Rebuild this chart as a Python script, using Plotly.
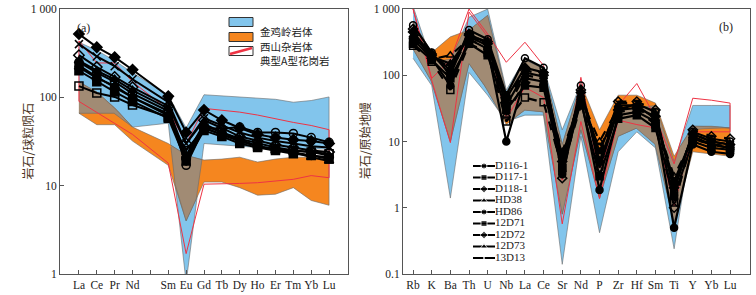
import numpy as np
import plotly.graph_objects as go

# ---------------- data ----------------
REE_ALL = ["La", "Ce", "Pr", "Nd", "Pm", "Sm", "Eu", "Gd", "Tb", "Dy", "Ho", "Er", "Tm", "Yb", "Lu"]
ree = ["La", "Ce", "Pr", "Nd", "Sm", "Eu", "Gd", "Tb", "Dy", "Ho", "Er", "Tm", "Yb", "Lu"]
spider = ["Rb", "K", "Ba", "Th", "U", "Nb", "La", "Ce", "Sr", "Nd", "P", "Zr", "Hf", "Sm", "Ti", "Y", "Yb", "Lu"]

samples = ["D116-1", "D117-1", "D118-1", "HD38", "HD86", "12D71", "12D72", "12D73", "13D13"]

# chondrite-normalised REE fields (a)
jjl_up_a = [420, 340, 260, 190, 105, 45, 107, 104, 100, 98, 95, 88, 92, 101]
jjl_lo_a = [66, 66, 66, 46, 51, 0.8, 30, 29, 28, 27, 27, 26, 26, 26]
xs_up_a = [150, 115, 76, 46, 30, 22, 19.5, 20, 21, 18.5, 20, 21, 21, 19.5]
xs_lo_a = [66, 49, 49, 32, 17, 4, 11, 11, 9.5, 7.8, 8, 9.5, 6.8, 6]
atype_up_a = [435, 245, 245, 150, 72, 30, 75, 72, 68, 63, 57, 52, 48, 43]
atype_lo_a = [90, 68, 51, 38, 18, 1.7, 10.4, 10.4, 10.6, 10.8, 11.2, 11.8, 13, 12.3]

ree_vals = {
    "D116-1": [230, 170, 130, 100, 62, 20, 45, 38, 32, 28, 26, 24, 22, 21],
    "D117-1": [200, 150, 115, 90, 58, 19, 42, 36, 30, 27, 25, 23, 22, 20],
    "D118-1": [520, 370, 285, 205, 103, 40, 72, 55, 45, 38, 35, 33, 32, 30],
    "HD38":   [260, 200, 160, 120, 75, 22, 50, 40, 34, 30, 27, 25, 24, 22],
    "HD86":   [250, 190, 150, 110, 70, 17, 45, 44, 46, 40, 40, 39, 35, 31],
    "12D71":  [134, 112, 101, 82, 60, 25, 45, 38, 32, 28, 26, 25, 24, 23],
    "12D72":  [300, 220, 170, 130, 80, 30, 55, 45, 36, 32, 29, 27, 25, 24],
    "12D73":  [220, 165, 135, 100, 65, 21, 48, 40, 33, 28, 25, 24, 21, 19],
    "13D13":  [400, 290, 225, 160, 88, 30, 58, 48, 40, 35, 32, 30, 28, 27],
}

# primitive-mantle normalised fields (b)
jjl_up_b = [1100, 160, 170, 750, 1000, 60, 180, 130, 15, 75, 6, 30, 32, 35, 5, 35, 35, 35]
jjl_lo_b = [180, 70, 1.4, 110, 50, 20, 25, 25, 0.14, 12, 0.42, 7, 14, 8, 0.24, 15, 16, 16]
xs_up_b = [650, 220, 380, 480, 800, 55, 170, 125, 9, 75, 15, 50, 50, 38, 6, 17, 17, 16]
xs_lo_b = [250, 80, 10, 150, 60, 18, 30, 28, 0.8, 15, 1.4, 12, 16, 9, 0.6, 7, 6.5, 6]
atype_up_b = [1000, 90, 170, 1000, 420, 157, 315, 140, 2.6, 93, 3, 35, 75, 23, 4.6, 45, 42, 38]
atype_lo_b = [1000, 84, 9.6, 900, 380, 22, 66, 46, 0.57, 20, 1.37, 21, 18, 16, 1.07, 14, 14, 14]

spider_vals = {
    "D116-1": [350, 180, 70, 350, 250, 10, 90, 80, 3.2, 45, 1.85, 25, 28, 20, 0.5, 9, 7, 6.5],
    "D117-1": [300, 170, 90, 300, 200, 30, 70, 65, 4, 40, 3, 22, 25, 16, 1.5, 10, 8, 7.5],
    "D118-1": [450, 200, 120, 420, 300, 45, 130, 110, 5, 55, 5, 30, 32, 24, 2, 13, 10, 9],
    "HD38":   [400, 190, 150, 380, 280, 35, 110, 95, 6, 50, 7, 35, 35, 22, 2.5, 12, 9, 8],
    "HD86":   [570, 220, 100, 480, 350, 50, 180, 130, 3.5, 70, 4, 30, 37, 28, 1.8, 14, 11, 10],
    "12D71":  [280, 160, 60, 300, 220, 20, 46, 39, 4, 35, 8, 28, 30, 18, 1.2, 11, 9, 8],
    "12D72":  [500, 210, 110, 400, 320, 40, 120, 100, 2.8, 60, 6, 40, 40, 30, 1, 15, 12, 11],
    "12D73":  [380, 175, 200, 350, 260, 25, 80, 70, 7, 45, 10, 32, 33, 20, 3, 11, 9, 8.5],
    "13D13":  [420, 195, 130, 400, 300, 30, 100, 90, 5, 52, 5, 38, 38, 25, 2, 13, 10, 9],
}

# ---------------- styles ----------------
BLUE = "#82C5EC"
ORANGE = "#F5861F"
BROWN = "#A18B74"
RED = "#EE3344"
EDGE = "#6a6a6a"
SERIF = "Liberation Serif"
CJK = "Noto Sans CJK SC"

symbols = ["circle", "square", "diamond", "triangle-up", "circle-open", "square-open",
           "diamond-open", "triangle-up-open", "x-thin-open"]
dashes = ["solid", "solid", "solid", "solid", "solid", "dash", "dash", "dash", "dash"]

xa = [REE_ALL.index(e) for e in ree]
xb = list(range(len(spider)))

fig = go.Figure()


def add_band(xs, up, lo, color, xaxis, yaxis):
    fig.add_trace(go.Scatter(
        x=list(xs) + list(xs)[::-1], y=list(up) + list(lo)[::-1],
        mode="lines", fill="toself", fillcolor=color,
        line=dict(color=EDGE, width=0.6), hoverinfo="skip", showlegend=False,
        xaxis=xaxis, yaxis=yaxis))


def add_overlap(xs, u1, l1, u2, l2, color, xaxis, yaxis, n=60):
    X, U, L = [], [], []
    for i in range(len(xs) - 1):
        t = np.linspace(0, 1, n, endpoint=(i == len(xs) - 2))
        X.extend(xs[i] + t * (xs[i + 1] - xs[i]))
        def li(a):
            return np.log10(a[i]) + t * (np.log10(a[i + 1]) - np.log10(a[i]))
        U.extend(np.minimum(li(u1), li(u2)))
        L.extend(np.maximum(li(l1), li(l2)))
    X, U, L = np.array(X), np.array(U), np.array(L)
    valid = U > L
    runs, cur = [], []
    for k, v in enumerate(valid):
        if v:
            cur.append(k)
        elif cur:
            runs.append(cur); cur = []
    if cur:
        runs.append(cur)
    for r in runs:
        if len(r) < 2:
            continue
        xr = X[r]; ur = 10 ** U[r]; lr = 10 ** L[r]
        fig.add_trace(go.Scatter(
            x=list(xr) + list(xr[::-1]), y=list(ur) + list(lr[::-1]),
            mode="lines", fill="toself", fillcolor=color,
            line=dict(color=EDGE, width=0.6), hoverinfo="skip", showlegend=False,
            xaxis=xaxis, yaxis=yaxis))


def add_outline(xs, up, lo, xaxis, yaxis):
    xx = list(xs) + list(xs)[::-1] + [xs[0]]
    yy = list(up) + list(lo)[::-1] + [up[0]]
    fig.add_trace(go.Scatter(x=xx, y=yy, mode="lines", line=dict(color=RED, width=1),
                             hoverinfo="skip", showlegend=False, xaxis=xaxis, yaxis=yaxis))


# panel (a)
add_band(xa, jjl_up_a, jjl_lo_a, BLUE, "x", "y")
add_band(xa, xs_up_a, xs_lo_a, ORANGE, "x", "y")
add_overlap(xa, jjl_up_a, jjl_lo_a, xs_up_a, xs_lo_a, BROWN, "x", "y")
add_outline(xa, atype_up_a, atype_lo_a, "x", "y")
for s, sym in zip(samples, symbols):
    fig.add_trace(go.Scatter(
        x=xa, y=ree_vals[s], mode="lines+markers", name=s,
        line=dict(color="black", width=2),
        marker=dict(symbol=sym, size=8, color="black", line=dict(color="black", width=1.5)),
        showlegend=False, xaxis="x", yaxis="y"))

# panel (b)
add_band(xb, jjl_up_b, jjl_lo_b, BLUE, "x2", "y2")
add_band(xb, xs_up_b, xs_lo_b, ORANGE, "x2", "y2")
add_overlap(xb, jjl_up_b, jjl_lo_b, xs_up_b, xs_lo_b, BROWN, "x2", "y2")
add_outline(xb, atype_up_b, atype_lo_b, "x2", "y2")
for s, sym, d in zip(samples, symbols, dashes):
    fig.add_trace(go.Scatter(
        x=xb, y=spider_vals[s], mode="lines+markers", name=s,
        line=dict(color="black", width=2.2, dash=d),
        marker=dict(symbol=sym, size=7, color="black", line=dict(color="black", width=1.5)),
        showlegend=False, xaxis="x2", yaxis="y2"))

# legend for (b): drawn on an overlay axis in pixel-like units
for i, (s, sym) in enumerate(zip(samples, symbols)):
    yy = 166 + 11.5 * i
    fig.add_trace(go.Scatter(
        x=[473, 484, 495], y=[yy, yy, yy], mode="lines+markers+text",
        text=["", "", s], textposition="middle right",
        textfont=dict(family=SERIF, size=11, color="#222"),
        line=dict(color="black", width=2),
        marker=dict(symbol=sym.replace("-open", ""), size=[0, 6, 0], color="black"),
        showlegend=False, hoverinfo="skip", xaxis="x3", yaxis="y3", cliponaxis=False))

W, H = 756, 295
T, B = 9, 21
PH = H - T - B


def px(x):
    return x / W


def py(y):
    return (H - B - y) / PH


axis_common = dict(showgrid=False, zeroline=False, showline=True, mirror=True,
                   linecolor="#555", linewidth=1, ticks="inside", ticklen=4,
                   tickcolor="#555", tickfont=dict(family=SERIF, size=11.5, color="#222"))

fig.update_layout(
    width=W, height=H, autosize=False,
    margin=dict(l=0, r=0, t=T, b=B),
    paper_bgcolor="white", plot_bgcolor="rgba(0,0,0,0)",
    showlegend=False,
    xaxis=dict(domain=[60 / W, 348 / W], range=[-1.06, 15.06], anchor="y",
               tickvals=list(range(len(REE_ALL))),
               ticktext=[e if e != "Pm" else "" for e in REE_ALL], **axis_common),
    yaxis=dict(domain=[0, 1], type="log", range=[0, 3], anchor="x",
               tickvals=[1, 10, 100, 1000], ticktext=["1", "10", "100", "1 000"], **axis_common),
    xaxis2=dict(domain=[403 / W, 750 / W], range=[-0.54, 18.07], anchor="y2",
                tickvals=xb, ticktext=spider, **axis_common),
    yaxis2=dict(domain=[0, 1], type="log", range=[-1, 3], anchor="x2",
                tickvals=[0.1, 1, 10, 100, 1000], ticktext=["0.1", "1", "10", "100", "1 000"],
                **axis_common),
    xaxis3=dict(overlaying="x2", range=[403, 750], visible=False),
    yaxis3=dict(overlaying="y2", range=[H - B, T], visible=False),
)

ann = [
    dict(x=px(75), y=py(19), text="(a)"),
    dict(x=px(735), y=py(18), text="(b)"),
]
annotations = [dict(xref="paper", yref="paper", showarrow=False,
                    font=dict(family=SERIF, size=12, color="#222"), **a) for a in ann]
annotations += [
    dict(xref="paper", yref="paper", x=px(16), y=py(141), text="岩石/球粒陨石", textangle=-90,
         showarrow=False, font=dict(family=CJK, size=12, color="#4a3322")),
    dict(xref="paper", yref="paper", x=px(364), y=py(141), text="岩石/原始地幔", textangle=-90,
         showarrow=False, font=dict(family=CJK, size=12, color="#4a3322")),
]
legend_labels = ["金鸡岭岩体", "西山杂岩体", "典型A型花岗岩"]
legend_y = [22, 37, 51]
for lab, yy in zip(legend_labels, legend_y):
    annotations.append(dict(xref="paper", yref="paper", x=px(258), y=py(yy), text=lab,
                            xanchor="left", showarrow=False,
                            font=dict(family=CJK, size=10.5, color="#222")))

shapes = []
for col, yy in zip([BLUE, ORANGE, "white"], legend_y):
    shapes.append(dict(type="rect", xref="paper", yref="paper",
                       x0=px(229), x1=px(253), y0=py(yy - 4.5), y1=py(yy + 4.5),
                       fillcolor=col, line=dict(color="#333", width=1)))
shapes.append(dict(type="line", xref="paper", yref="paper",
                   x0=px(230), y0=py(legend_y[2] + 3), x1=px(252), y1=py(legend_y[2] - 3),
                   line=dict(color=RED, width=2.5)))

fig.update_layout(annotations=annotations, shapes=shapes)
fig.write_html("out.html", config={"displayModeBar": False},
               post_script="document.body.style.margin='0';document.body.style.padding='0';")
